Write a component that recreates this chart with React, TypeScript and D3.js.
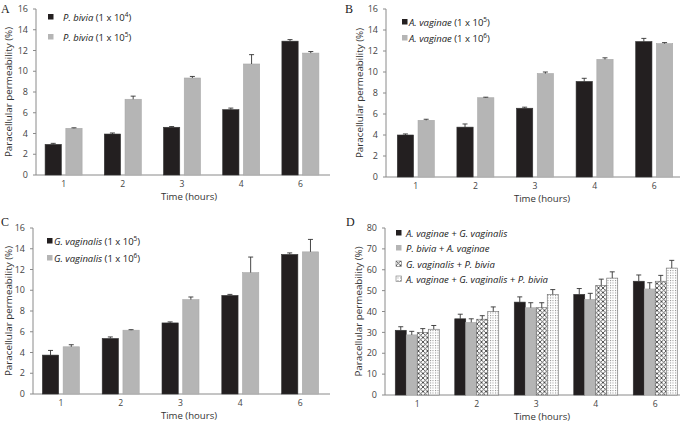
import { useEffect, useRef } from 'react';
import * as d3 from 'd3';

const timeLabels = ['1', '2', '3', '4', '6'];

// Panel A
const pBivia1e4 = [2.95, 3.95, 4.6, 6.3, 12.9];
const pBivia1e4Err = [0.1, 0.1, 0.07, 0.15, 0.15];
const pBivia1e5 = [4.5, 7.3, 9.35, 10.7, 11.75];
const pBivia1e5Err = [0.05, 0.3, 0.15, 0.9, 0.15];

// Panel B
const aVaginae1e5 = [4.0, 4.75, 6.55, 9.1, 12.9];
const aVaginae1e5Err = [0.1, 0.3, 0.1, 0.3, 0.3];
const aVaginae1e6 = [5.4, 7.55, 9.85, 11.2, 12.7];
const aVaginae1e6Err = [0.1, 0.05, 0.15, 0.15, 0.1];

// Panel C
const gVaginalis1e5 = [3.75, 5.35, 6.85, 9.5, 13.45];
const gVaginalis1e5Err = [0.45, 0.15, 0.1, 0.1, 0.15];
const gVaginalis1e6 = [4.55, 6.15, 9.1, 11.7, 13.7];
const gVaginalis1e6Err = [0.2, 0.05, 0.25, 1.5, 1.2];

// Panel D
const avGv = [31, 36.5, 44.5, 48.2, 54.5];
const avGvErr = [1.7, 2.2, 2.5, 2.8, 3];
const pbAv = [28.8, 34.8, 41.8, 45.8, 50.8];
const pbAvErr = [1.7, 1.7, 2.4, 2.9, 3];
const gvPb = [30, 36.3, 41.8, 52.5, 54.5];
const gvPbErr = [1.8, 1.7, 2.4, 3, 2.8];
const avGvPb = [31.5, 40, 48.2, 56, 60.8];
const avGvPbErr = [1.8, 2.2, 2.3, 3, 3.7];

const yTicksSmall = [0, 2, 4, 6, 8, 10, 12, 14, 16];
const yTicksBig = [0, 10, 20, 30, 40, 50, 60, 70, 80];

interface Series {
  name: string;       // italic part
  extra: string;      // normal part, e.g. "(1 x 10"
  sup?: string;
  values: number[];
  errs: number[];
  fill: string;
}

interface Panel {
  letter: string;
  letterPos: [number, number];
  axisX: number;
  xEnd: number;
  band: [number, number];
  yTop: number;
  y0: number;
  yMax: number;
  yTicks: number[];
  yTitleX: number;
  xTitleX: number;
  legend: { sx: number; tx: number; ys: number[] };
  series: Series[];
  groupWidth: number;
  gap: number;
}

const BLACK = '#231f20';
const GRAY = '#b5b5b5';

const panels: Panel[] = [
  {
    letter: 'A', letterPos: [1, 13], axisX: 36, xEnd: 330, band: [34, 330],
    yTop: 9, y0: 175, yMax: 16, yTicks: yTicksSmall, yTitleX: 12,
    xTitleX: 189, legend: { sx: 48, tx: 63, ys: [17, 37] }, groupWidth: 37, gap: 4,
    series: [
      { name: 'P. bivia', extra: ' (1 x 10', sup: '4', values: pBivia1e4, errs: pBivia1e4Err, fill: BLACK },
      { name: 'P. bivia', extra: ' (1 x 10', sup: '5', values: pBivia1e5, errs: pBivia1e5Err, fill: GRAY },
    ],
  },
  {
    letter: 'B', letterPos: [345, 13], axisX: 386, xEnd: 680, band: [386, 684],
    yTop: 9, y0: 177, yMax: 16, yTicks: yTicksSmall, yTitleX: 363,
    xTitleX: 542, legend: { sx: 402, tx: 409, ys: [22, 38] }, groupWidth: 37, gap: 4,
    series: [
      { name: 'A. vaginae', extra: ' (1 x 10', sup: '5', values: aVaginae1e5, errs: aVaginae1e5Err, fill: BLACK },
      { name: 'A. vaginae', extra: ' (1 x 10', sup: '6', values: aVaginae1e6, errs: aVaginae1e6Err, fill: GRAY },
    ],
  },
  {
    letter: 'C', letterPos: [1, 226], axisX: 33, xEnd: 330, band: [31, 330],
    yTop: 228, y0: 394, yMax: 16, yTicks: yTicksSmall, yTitleX: 12,
    xTitleX: 189, legend: { sx: 47, tx: 54, ys: [241, 258] }, groupWidth: 37, gap: 4,
    series: [
      { name: 'G. vaginalis', extra: ' (1 x 10', sup: '5', values: gVaginalis1e5, errs: gVaginalis1e5Err, fill: BLACK },
      { name: 'G. vaginalis', extra: ' (1 x 10', sup: '6', values: gVaginalis1e6, errs: gVaginalis1e6Err, fill: GRAY },
    ],
  },
  {
    letter: 'D', letterPos: [346, 226], axisX: 385, xEnd: 680, band: [387.5, 685],
    yTop: 228, y0: 395, yMax: 80, yTicks: yTicksBig, yTitleX: 362,
    xTitleX: 542, legend: { sx: 396, tx: 406, ys: [233, 248, 264, 279] }, groupWidth: 44, gap: 0,
    series: [
      { name: 'A. vaginae + G. vaginalis', extra: '', values: avGv, errs: avGvErr, fill: BLACK },
      { name: 'P. bivia + A. vaginae', extra: '', values: pbAv, errs: pbAvErr, fill: GRAY },
      { name: 'G. vaginalis + P. bivia', extra: '', values: gvPb, errs: gvPbErr, fill: 'url(#cross)' },
      { name: 'A. vaginae + G. vaginalis + P. bivia', extra: '', values: avGvPb, errs: avGvPbErr, fill: 'url(#dots)' },
    ],
  },
];

const SANS = '"Open Sans", "Noto Sans", sans-serif';

export default function App() {
  const svgRef = useRef<SVGSVGElement>(null);

  useEffect(() => {
    if (!svgRef.current) return;
    const svg = d3.select(svgRef.current);
    svg.selectAll('*').remove();

    // Patterns for panel D
    const defs = svg.append('defs');
    const cross = defs.append('pattern')
      .attr('id', 'cross').attr('patternUnits', 'userSpaceOnUse')
      .attr('width', 4.5).attr('height', 4.5);
    cross.append('rect').attr('width', 4.5).attr('height', 4.5).attr('fill', '#fff');
    cross.append('path').attr('d', 'M0,0 L4.5,4.5 M4.5,0 L0,4.5')
      .attr('stroke', '#444').attr('stroke-width', 0.9);
    const dots = defs.append('pattern')
      .attr('id', 'dots').attr('patternUnits', 'userSpaceOnUse')
      .attr('width', 2.5).attr('height', 2.5);
    dots.append('rect').attr('width', 2.5).attr('height', 2.5).attr('fill', '#fff');
    dots.append('rect').attr('width', 1).attr('height', 1).attr('fill', '#888');

    panels.forEach(p => {
      const g = svg.append('g');

      const y = d3.scaleLinear().domain([0, p.yMax]).range([p.y0, p.yTop]);
      const x = d3.scaleBand<string>().domain(timeLabels).range(p.band).padding(0);
      const keys = p.series.map((_, i) => String(i));
      const inner = d3.scaleBand<string>().domain(keys)
        .range([0, p.groupWidth]).paddingInner(p.gap / (p.groupWidth / p.series.length));

      // Panel letter
      g.append('text')
        .attr('x', p.letterPos[0]).attr('y', p.letterPos[1])
        .attr('font-family', '"Liberation Serif", "DejaVu Serif", serif')
        .attr('font-size', 12).attr('fill', '#222')
        .text(p.letter);

      // Y axis
      g.append('line')
        .attr('x1', p.axisX).attr('x2', p.axisX)
        .attr('y1', y(0)).attr('y2', y(p.yMax))
        .attr('stroke', '#8a8a8a').attr('stroke-width', 1);
      p.yTicks.forEach(t => {
        g.append('line')
          .attr('x1', p.axisX - 3).attr('x2', p.axisX)
          .attr('y1', y(t)).attr('y2', y(t))
          .attr('stroke', '#8a8a8a');
        g.append('text')
          .attr('x', p.axisX - 8).attr('y', y(t) + 3.2)
          .attr('text-anchor', 'end')
          .attr('font-family', SANS).attr('font-size', 9).attr('fill', '#444')
          .text(String(t));
      });

      // X axis
      g.append('line')
        .attr('x1', p.axisX).attr('x2', p.xEnd)
        .attr('y1', y(0)).attr('y2', y(0))
        .attr('stroke', '#8a8a8a');
      timeLabels.forEach(c => {
        g.append('text')
          .attr('x', (x(c) || 0) + x.bandwidth() / 2).attr('y', y(0) + 12)
          .attr('text-anchor', 'middle')
          .attr('font-family', SANS).attr('font-size', 8.6).attr('fill', '#444')
          .text(c);
      });

      // Axis titles
      g.append('text')
        .attr('x', p.xTitleX).attr('y', y(0) + 24.5)
        .attr('text-anchor', 'middle')
        .attr('font-family', SANS).attr('font-size', 9.6).attr('fill', '#333')
        .text('Time (hours)');
      g.append('text')
        .attr('transform', `translate(${p.yTitleX},${(p.y0 + p.yTop) / 2}) rotate(-90)`)
        .attr('text-anchor', 'middle')
        .attr('font-family', SANS).attr('font-size', 9.8).attr('fill', '#333')
        .text('Paracellular permeability (%)');

      // Bars
      p.series.forEach((s, si) => {
        const xs = (c: string) => (x(c) || 0) + (x.bandwidth() - p.groupWidth) / 2 + (inner(String(si)) || 0);
        const patterned = s.fill.startsWith('url');
        g.selectAll(null)
          .data(timeLabels)
          .enter()
          .append('rect')
          .attr('x', c => xs(c))
          .attr('y', (_, i) => y(s.values[i]))
          .attr('width', inner.bandwidth())
          .attr('height', (_, i) => y(0) - y(s.values[i]))
          .attr('fill', s.fill)
          .attr('stroke', patterned ? '#666' : s.fill === BLACK ? '#333' : '#a8a8a8')
          .attr('stroke-width', 0.6);

        // Error bars (upper only)
        timeLabels.forEach((c, i) => {
          const cx = xs(c) + inner.bandwidth() / 2;
          const top = y(s.values[i] + s.errs[i]);
          g.append('line')
            .attr('x1', cx).attr('x2', cx)
            .attr('y1', y(s.values[i])).attr('y2', top)
            .attr('stroke', '#333').attr('stroke-width', 0.9);
          g.append('line')
            .attr('x1', cx - 2.5).attr('x2', cx + 2.5)
            .attr('y1', top).attr('y2', top)
            .attr('stroke', '#333').attr('stroke-width', 0.9);
        });

        // Legend
        const ly = p.legend.ys[si];
        g.append('rect')
          .attr('x', p.legend.sx).attr('y', ly - 3)
          .attr('width', 5.5).attr('height', 5.5)
          .attr('fill', s.fill)
          .attr('stroke', patterned ? '#777' : 'none').attr('stroke-width', 0.6);
        const t = g.append('text')
          .attr('x', p.legend.tx).attr('y', ly + 3.5)
          .attr('font-family', SANS).attr('font-size', 9.5).attr('fill', '#222');
        t.append('tspan').attr('font-style', 'italic').text(s.name);
        if (s.extra) {
          t.append('tspan').text(s.extra);
          t.append('tspan').attr('font-size', 6.5).attr('dy', -3.5).text(s.sup || '');
          t.append('tspan').attr('dy', 3.5).text(')');
        }
      });
    });
  }, []);

  return (
    <svg
      ref={svgRef}
      width={687}
      height={422}
      style={{ position: 'absolute', left: 0, top: 0, background: '#fff' }}
    />
  );
}
